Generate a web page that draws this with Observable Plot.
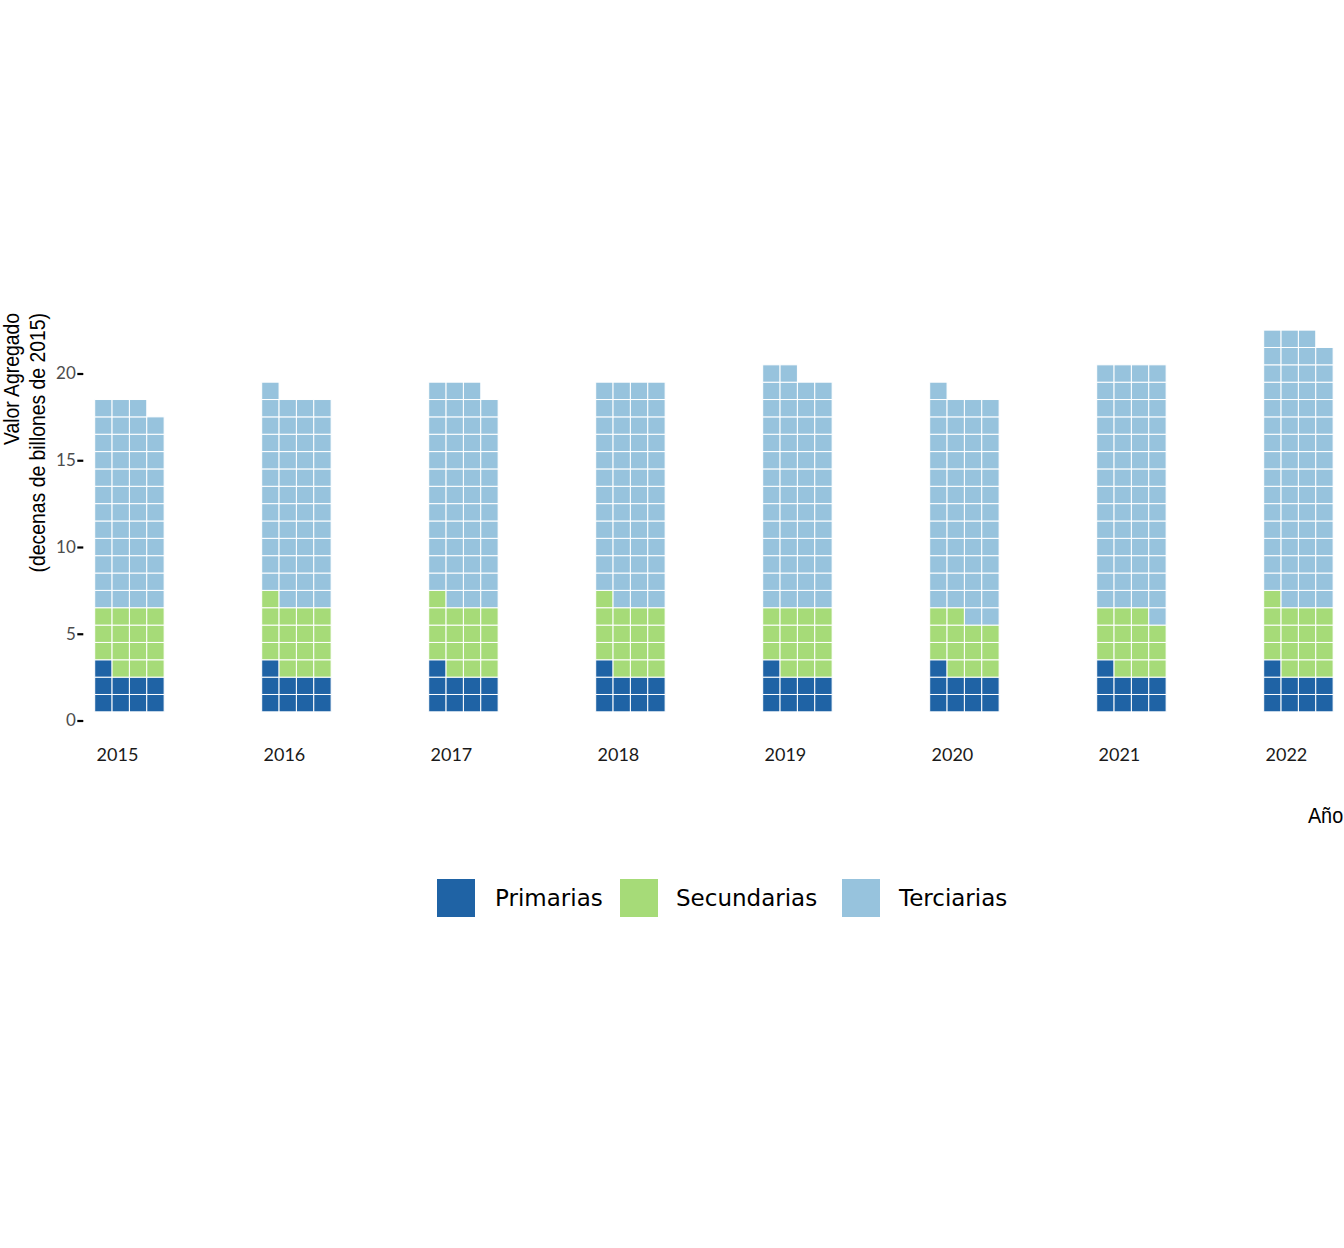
<!DOCTYPE html>
<html>
<head>
<meta charset="utf-8">
<script src="https://cdn.jsdelivr.net/npm/d3@7"></script>
<script src="https://cdn.jsdelivr.net/npm/@observablehq/plot@0.6"></script>
<style>
  body { margin: 0; background: white; }
  #wrap { position: relative; width: 1344px; height: 1248px; overflow: hidden; background: white; }
  #chart { position: absolute; left: 0; top: 0; }
  .ytitle { position: absolute; left: -1px; top: 577px; width: 300px; transform: rotate(-90deg) scale(0.88, 1); transform-origin: 0 0;
            font-family: "Liberation Sans", Arial, sans-serif; font-size: 22px; line-height: 26px;
            text-align: right; color: black; white-space: nowrap; }
  .xtitle { position: absolute; right: 1px; top: 803px; font-family: "Liberation Sans", Arial, sans-serif;
            font-size: 22px; line-height: 26px; color: black; transform: scale(0.9, 1); transform-origin: 100% 50%; }
  .sw { position: absolute; width: 38px; height: 38px; top: 879px; }
  .lt { position: absolute; top: 882px; font-family: "DejaVu Sans", sans-serif; font-size: 23px; line-height: 32px; color: black; }
</style>
</head>
<body>
<div id="wrap">
  <div id="chart"></div>
  <div class="ytitle">Valor Agregado<br>(decenas de billones de 2015)</div>
  <div class="xtitle">Año</div>
  <div id="legend"></div>
</div>
<script>
const years = [2015, 2016, 2017, 2018, 2019, 2020, 2021, 2022];
const primarias = [9, 9, 9, 9, 9, 9, 9, 9];
const secundarias = [15, 16, 16, 16, 15, 13, 14, 16];
const terciarias = [47, 48, 50, 51, 54, 51, 57, 62];
const sectores = ["Primarias", "Secundarias", "Terciarias"];
const colores = ["#1f63a5", "#a6db78", "#97c3dd"];
const yTicks = [0, 5, 10, 15, 20];
const columnas = 4;

// one cell per unit, filled left-to-right, bottom-to-top
const cells = [];
years.forEach((year, j) => {
  const counts = [primarias[j], secundarias[j], terciarias[j]];
  let i = 0;
  counts.forEach((n, k) => {
    for (let c = 0; c < n; c++, i++) {
      cells.push({year, sector: sectores[k], col: i % columnas, row: Math.floor(i / columnas)});
    }
  });
});

const chart = Plot.plot({
  width: 1344,
  height: 780,
  marginLeft: 83.3,
  marginRight: 2.2,
  marginTop: 304.1,
  marginBottom: 59.5,
  style: {fontFamily: "Lato, sans-serif", fontSize: "16px", color: "#4d4d4d", background: "white", overflow: "visible"},
  fx: {domain: years, paddingInner: 0.464, paddingOuter: 0, round: false, label: null},
  x: {domain: [-0.157, 5.0], axis: null},
  y: {domain: [0, 24], label: null},
  color: {domain: sectores, range: colores},
  marks: [
    Plot.rect(cells, {
      fx: "year",
      x1: d => d.col + 0.5, x2: d => d.col + 1.5,
      y1: d => d.row + 0.5, y2: d => d.row + 1.5,
      fill: "sector", stroke: "white", strokeWidth: 1
    }),
    Plot.axisY({ticks: yTicks, tickSize: 6, tickPadding: 2, stroke: "black", strokeWidth: 2.2, fill: "#4d4d4d", fontSize: 17, label: null}),
    Plot.axisFx({anchor: "bottom", tickSize: 0, tickPadding: 27, textAnchor: "start", dx: -32, fontSize: 18, fill: "#1a1a1a", tickFormat: d => String(d), label: null})
  ]
});
document.getElementById("chart").appendChild(chart);

const legend = document.getElementById("legend");
const swLeft = [437, 620, 842];
const txLeft = [495, 676, 899];
sectores.forEach((s, k) => {
  const sw = document.createElement("div");
  sw.className = "sw"; sw.style.left = swLeft[k] + "px"; sw.style.background = colores[k];
  legend.appendChild(sw);
  const t = document.createElement("div");
  t.className = "lt"; t.style.left = txLeft[k] + "px"; t.textContent = s;
  legend.appendChild(t);
});
</script>
</body>
</html>
